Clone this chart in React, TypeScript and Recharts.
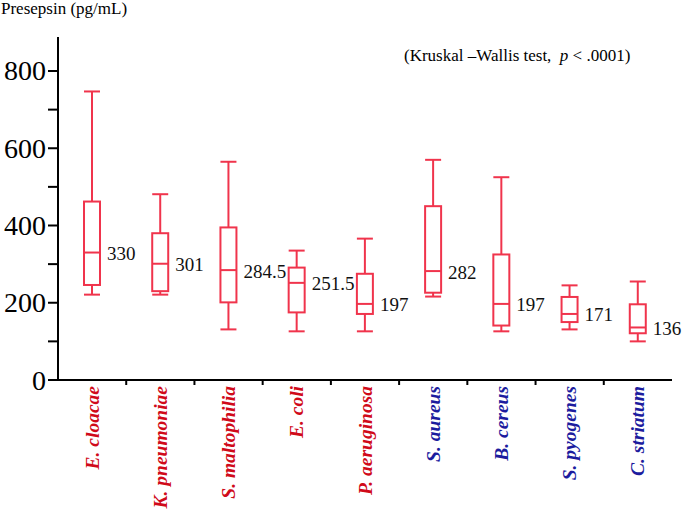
import { ComposedChart, Bar, XAxis, YAxis } from "recharts";

// bacteria names, and which group they belong to (gram- red, gram+ blue)
const names = [
  "E. cloacae",
  "K. pneumoniae",
  "S. maltophilia",
  "E. coli",
  "P. aeruginosa",
  "S. aureus",
  "B. cereus",
  "S. pyogenes",
  "C. striatum",
];
const gramNegative = [true, true, true, true, true, false, false, false, false];

const minVals = [221, 221, 131, 126, 126, 216, 126, 131, 100];
const q1Vals = [246, 230, 201, 175, 171, 226, 141, 150, 121];
const medians = [330, 301, 284.5, 251.5, 197, 282, 197, 171, 136];
const q3Vals = [462, 380, 395, 291, 275, 450, 325, 215, 196];
const maxVals = [747, 481, 565, 335, 366, 570, 525, 245, 255];

const yTicks = [0, 100, 200, 300, 400, 500, 600, 700, 800];

const BOX = "#f0344c";
const RED = "#d00a1a";
const BLUE = "#1c1c9e";
const SERIF = "'Liberation Serif', 'Times New Roman', serif";

const data = names.map((name, i) => ({
  name,
  min: minVals[i],
  q1: q1Vals[i],
  median: medians[i],
  q3: q3Vals[i],
  max: maxVals[i],
}));

const BoxShape = (props: any) => {
  const { x, y, width, height, payload } = props;
  const top = Math.min(y, y + height);
  const h = Math.abs(height);
  const { min, q1, median, q3, max } = payload;
  // linear map inside the range bar (min..max) that the y scale gave us
  const py = (v: number) => top + ((max - v) / (max - min)) * h;
  const cx = x + width / 2;
  return (
    <g>
      <line x1={cx} x2={cx} y1={py(max)} y2={py(q3)} stroke={BOX} strokeWidth={2} />
      <line x1={cx} x2={cx} y1={py(q1)} y2={py(min)} stroke={BOX} strokeWidth={2} />
      <line x1={x} x2={x + width} y1={py(max)} y2={py(max)} stroke={BOX} strokeWidth={2} />
      <line x1={x} x2={x + width} y1={py(min)} y2={py(min)} stroke={BOX} strokeWidth={2} />
      <rect
        x={x}
        y={py(q3)}
        width={width}
        height={py(q1) - py(q3)}
        fill="#fff"
        stroke={BOX}
        strokeWidth={2}
      />
      <line x1={x} x2={x + width} y1={py(median)} y2={py(median)} stroke={BOX} strokeWidth={2} />
      <text
        x={x + width + 7}
        y={py(median) + 1}
        fontFamily={SERIF}
        fontSize={19}
        fill="#111"
        dominantBaseline="central"
      >
        {median}
      </text>
    </g>
  );
};

const XTick = (props: any) => {
  const { x, y, payload, index, width } = props;
  const step = width / names.length;
  const color = gramNegative[index] ? RED : BLUE;
  return (
    <g>
      {index < names.length - 1 && (
        <line
          x1={x + step / 2}
          x2={x + step / 2}
          y1={y - 6}
          y2={y - 1}
          stroke="#000"
          strokeWidth={2}
        />
      )}
      <text
        x={x}
        y={y}
        transform={`rotate(-90, ${x}, ${y})`}
        textAnchor="end"
        dominantBaseline="central"
        fontFamily={SERIF}
        fontSize={19.5}
        fontWeight="bold"
        fontStyle="italic"
        fill={color}
      >
        {payload.value}
      </text>
    </g>
  );
};

const YTick = (props: any) => {
  const { x, y, payload } = props;
  if (payload.value % 200 !== 0) return <g />;
  return (
    <text
      x={x}
      y={y}
      textAnchor="end"
      dominantBaseline="central"
      fontFamily={SERIF}
      fontSize={28}
      fill="#000"
    >
      {payload.value}
    </text>
  );
};

export default function App() {
  return (
    <div
      style={{
        position: "absolute",
        left: 0,
        top: 0,
        width: 685,
        height: 510,
        background: "#fff",
        fontFamily: SERIF,
      }}
    >
      <div
        style={{
          position: "absolute",
          left: 1,
          top: 0,
          fontSize: 17,
          lineHeight: "18px",
          color: "#000",
          whiteSpace: "pre",
        }}
      >
        Presepsin (pg/mL)
      </div>
      <div
        style={{
          position: "absolute",
          left: 404,
          top: 46,
          fontSize: 17,
          color: "#000",
          whiteSpace: "pre",
        }}
      >
        (Kruskal –Wallis test,  <i>p</i> {"<"} .0001)
      </div>
      <ComposedChart
        width={685}
        height={510}
        data={data}
        margin={{ top: 37, right: 13, left: 0, bottom: 0 }}
      >
        <XAxis
          dataKey="name"
          interval={0}
          height={130}
          tickLine={false}
          tickSize={5}
          tickMargin={1}
          axisLine={{ stroke: "#000", strokeWidth: 2 }}
          tick={<XTick />}
        />
        <YAxis
          type="number"
          domain={[0, 888]}
          ticks={yTicks}
          width={58}
          tickSize={10}
          tickMargin={2}
          tickLine={{ stroke: "#000", strokeWidth: 2 }}
          axisLine={{ stroke: "#000", strokeWidth: 2 }}
          tick={<YTick />}
          allowDataOverflow
        />
        <Bar
          dataKey={(d: any) => [d.min, d.max]}
          barSize={16}
          shape={<BoxShape />}
          isAnimationActive={false}
        />
      </ComposedChart>
    </div>
  );
}
